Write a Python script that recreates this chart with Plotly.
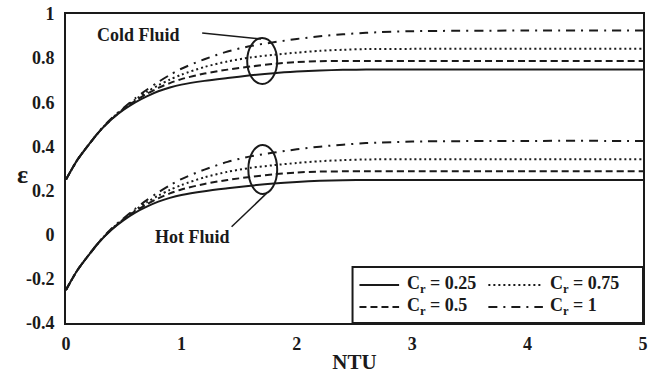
import plotly.graph_objects as go

# ---- data ----
ntu = [0, 0.1, 0.2, 0.3, 0.4, 0.5, 0.6, 0.7, 0.8, 0.9, 1.0, 1.2, 1.4, 1.6, 1.8,
       2.0, 2.2, 2.4, 2.6, 3.0, 4.0, 5.0]

cold_025 = [0.25, 0.34, 0.41, 0.474, 0.525, 0.566, 0.600, 0.627, 0.650, 0.667, 0.680,
            0.697, 0.710, 0.722, 0.732, 0.739, 0.744, 0.747, 0.748, 0.748, 0.748, 0.748]
cold_050 = [0.25, 0.34, 0.41, 0.474, 0.526, 0.570, 0.607, 0.638, 0.665, 0.687, 0.705,
            0.730, 0.748, 0.762, 0.774, 0.782, 0.786, 0.787, 0.787, 0.787, 0.787, 0.787]
cold_075 = [0.25, 0.34, 0.41, 0.475, 0.528, 0.572, 0.612, 0.647, 0.677, 0.703, 0.725,
            0.760, 0.785, 0.803, 0.815, 0.825, 0.833, 0.838, 0.841, 0.842, 0.842, 0.842]
cold_100 = [0.25, 0.34, 0.41, 0.476, 0.530, 0.575, 0.618, 0.657, 0.692, 0.724, 0.752,
            0.795, 0.830, 0.855, 0.872, 0.887, 0.899, 0.908, 0.915, 0.922, 0.925, 0.925]

hot_025 = [-0.25, -0.16, -0.09, -0.026, 0.025, 0.066, 0.100, 0.127, 0.150, 0.167, 0.180,
           0.197, 0.210, 0.222, 0.232, 0.239, 0.244, 0.247, 0.248, 0.248, 0.248, 0.248]
hot_050 = [-0.25, -0.16, -0.09, -0.026, 0.026, 0.070, 0.107, 0.138, 0.165, 0.187, 0.205,
           0.230, 0.248, 0.262, 0.274, 0.282, 0.286, 0.287, 0.287, 0.287, 0.287, 0.287]
hot_075 = [-0.25, -0.16, -0.09, -0.025, 0.028, 0.072, 0.112, 0.147, 0.177, 0.203, 0.225,
           0.260, 0.285, 0.303, 0.315, 0.325, 0.333, 0.338, 0.341, 0.342, 0.342, 0.342]
hot_100 = [-0.25, -0.16, -0.09, -0.024, 0.030, 0.075, 0.118, 0.157, 0.192, 0.224, 0.252,
           0.295, 0.330, 0.355, 0.372, 0.387, 0.399, 0.408, 0.415, 0.422, 0.425, 0.425]

series_names = ["C<sub>r</sub> = 0.25", "C<sub>r</sub> = 0.5",
                "C<sub>r</sub> = 0.75", "C<sub>r</sub> = 1"]

x_ticks = [0, 1, 2, 3, 4, 5]
x_ticktext = ["0", "1", "2", "3", "4", "5"]
y_ticks = [-0.4, -0.2, 0, 0.2, 0.4, 0.6, 0.8, 1.0]
y_ticktext = ["-0.4", "-0.2", "0", "0.2", "0.4", "0.6", "0.8", "1"]

FONT = "Liberation Serif, Times New Roman, serif"
INK = "#1a1a1a"
TICKF = dict(family=FONT, size=18, color=INK, weight="bold")

dashes = ["solid", "7px,4px", "2px,3px", "9px,6px,2px,6px"]
colds = [cold_025, cold_050, cold_075, cold_100]
hots = [hot_025, hot_050, hot_075, hot_100]

fig = go.Figure()
for name, cold, hot, dash in zip(series_names, colds, hots, dashes):
    for ys in (cold, hot):
        fig.add_trace(go.Scatter(x=ntu, y=ys, mode="lines", name=name, showlegend=False,
                                 line=dict(color=INK, width=2, dash=dash,
                                           shape="spline", smoothing=0.8)))

# ellipses and pointers
fig.add_shape(type="circle", xref="x", yref="y", x0=1.57, x1=1.83, y0=0.683, y1=0.891,
              line=dict(color=INK, width=2))
fig.add_shape(type="circle", xref="x", yref="y", x0=1.58, x1=1.83, y0=0.185, y1=0.407,
              line=dict(color=INK, width=2))
fig.add_shape(type="line", xref="x", yref="y", x0=1.18, y0=0.914, x1=1.69, y1=0.887,
              line=dict(color=INK, width=1.5))
fig.add_shape(type="line", xref="x", yref="y", x0=1.735, y0=0.186, x1=1.435, y1=0.036,
              line=dict(color=INK, width=1.5))

fig.add_annotation(x=0.627, y=0.905, xref="x", yref="y", text="Cold Fluid", showarrow=False,
                   font=dict(family=FONT, size=18, color=INK, weight="bold"))
fig.add_annotation(x=1.095, y=-0.009, xref="x", yref="y", text="Hot Fluid", showarrow=False,
                   font=dict(family=FONT, size=18, color=INK, weight="bold"))

# upright y-axis title
fig.add_annotation(x=-0.0756, y=0.479, xref="paper", yref="paper", text="ε", showarrow=False,
                   xanchor="center", yanchor="middle",
                   font=dict(family=FONT, size=26, color=INK, weight="bold"))

# ---- hand-built legend box (2 x 2) ----
fig.add_shape(type="rect", xref="paper", yref="paper", x0=0.4966, x1=1.0, y0=0.0, y1=0.181,
              fillcolor="white", line=dict(color=INK, width=2))
leg_rows = [0.123, 0.052]
leg_cols = [(0.5086, 0.5773, 0.5876), (0.732, 0.8265, 0.835)]
# order: row1: 0.25, 0.75 ; row2: 0.5, 1
leg_layout = [(0, 0, 0), (1, 1, 0), (2, 0, 1), (3, 1, 1)]
for idx, row, col in leg_layout:
    lx0, lx1, tx = leg_cols[col]
    yy = leg_rows[row]
    fig.add_shape(type="line", xref="paper", yref="paper", x0=lx0, x1=lx1, y0=yy, y1=yy,
                  line=dict(color=INK, width=2, dash=dashes[idx]))
    fig.add_annotation(x=tx, y=yy, xref="paper", yref="paper", text=series_names[idx],
                       showarrow=False, xanchor="left", yanchor="middle",
                       font=dict(family=FONT, size=18, color=INK, weight="bold"))

fig.update_layout(
    width=651, height=376,
    margin=dict(l=66, r=3, t=14, b=53),
    paper_bgcolor="white", plot_bgcolor="white",
    font=dict(family=FONT, color=INK, size=18, weight="bold"),
    showlegend=False,
)
fig.update_xaxes(range=[0, 5], tickvals=x_ticks, ticktext=x_ticktext,
                 showgrid=False, zeroline=False, showline=True, linecolor=INK, linewidth=2,
                 mirror=True, ticks="", ticklabelstandoff=3, tickfont=TICKF,
                 title=dict(text="NTU", standoff=2,
                            font=dict(family=FONT, size=21, color=INK, weight="bold")))
fig.update_yaxes(range=[-0.4, 1], tickvals=y_ticks, ticktext=y_ticktext,
                 showgrid=False, zeroline=False, showline=True, linecolor=INK, linewidth=2,
                 mirror=True, ticks="", ticklabelstandoff=6, tickfont=TICKF)

fig.write_html("out.html")
